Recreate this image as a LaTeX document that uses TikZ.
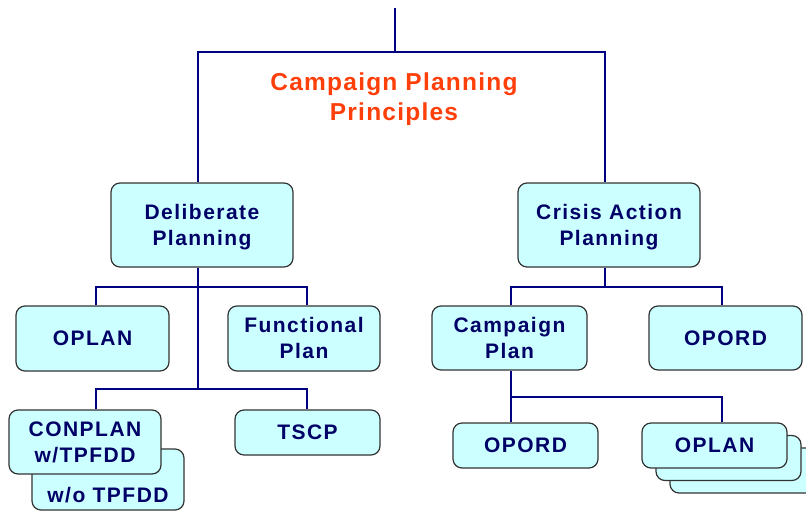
\documentclass[tikz,border=0pt]{standalone}
\usepackage{fontspec}
\usepackage{tikz}
\newfontfamily\planfont[LetterSpace=7]{Liberation Sans}
\newfontfamily\headfont[LetterSpace=5]{Liberation Sans}
\newcommand{\planstrut}{\rule[-4.5pt]{0pt}{23.5pt}}
\definecolor{planfill}{HTML}{CCFFFF}
\definecolor{plantext}{HTML}{000066}
\definecolor{planline}{HTML}{000080}
\definecolor{headred}{HTML}{FF3F0A}
\tikzset{
  plan/.style={draw=black!80,line width=1.2pt,fill=planfill,rounded corners=9pt,
    text=plantext,align=center,inner sep=0pt,
    font=\planfont\bfseries\fontsize{21}{26}\selectfont},
  link/.style={draw=planline,line width=1.1pt}
}

\begin{document}
\begin{tikzpicture}[x=1pt,y=-1pt]
\useasboundingbox (0,0) rectangle (806,512);
\clip (0,0) rectangle (806,512);
\node[text=headred,align=center,font=\headfont\bfseries\fontsize{24.5}{30}\selectfont]
  (head) at (394,99) {Campaign Planning\\Principles};
% planning branches
\node[plan,minimum width=182,minimum height=84] (delib) at (202,225) {\planstrut Deliberate\\Planning\planstrut};
\node[plan,minimum width=182,minimum height=84] (crisis) at (609,225) {\planstrut Crisis Action\\Planning\planstrut};
% deliberate side
\node[plan,minimum width=153,minimum height=65] (oplanA) at (92.5,338.5) {OPLAN};
\node[plan,minimum width=152,minimum height=65] (func) at (304,338.5) {\planstrut Functional\\Plan\planstrut};
\node[plan,minimum width=152,minimum height=61] (conback) at (108,479.5) {};
\node[text=plantext,font=\planfont\bfseries\fontsize{21}{26}\selectfont] (wo) at (108,495) {w/o TPFDD};
\node[plan,minimum width=152,minimum height=64] (conplan) at (85,442) {\planstrut CONPLAN\\w/TPFDD\planstrut};
\node[plan,minimum width=145,minimum height=45] (tscp) at (307.5,432.5) {TSCP};
% crisis side
\node[plan,minimum width=155,minimum height=64] (campaign) at (509.5,338) {\planstrut Campaign\\Plan\planstrut};
\node[plan,minimum width=153,minimum height=64] (opordA) at (725.5,338) {OPORD};
\node[plan,minimum width=145,minimum height=45] (opordB) at (525.5,445.5) {OPORD};
\foreach \d in {2,1}
  \node[plan,minimum width=145,minimum height=45] (oplanB\d) at (714.5+14*\d,445.5+12.5*\d) {};
\node[plan,minimum width=145,minimum height=45] (oplanB) at (714.5,445.5) {OPLAN};

% connectors
\coordinate (top) at (395,8);
\coordinate (hub) at (395,52);
\coordinate (lbus) at (198,287);
\coordinate (lbus2) at (198,389);
\coordinate (rbus) at (605,287);
\coordinate (rbus2) at (511,397);
\draw[link] (top) -- (hub);
\draw[link] ([xshift=-4]delib.north) |- (hub) -| ([xshift=-4]crisis.north);
\draw[link] ([xshift=-4]delib.south) -- (lbus2);
\draw[link] ([xshift=3.5]oplanA.north) |- (lbus) -| ([xshift=3]func.north);
\draw[link] ([xshift=11]conplan.north) |- (lbus2) -| ([xshift=-0.5]tscp.north);
\draw[link] ([xshift=-4]crisis.south) -- (rbus);
\draw[link] ([xshift=1.5]campaign.north) |- (rbus) -| ([xshift=-3.5]opordA.north);
\draw[link] ([xshift=1.5]campaign.south) -- ([xshift=-14.5]opordB.north);
\draw[link] (rbus2) -| ([xshift=7.5]oplanB.north);
\end{tikzpicture}
\end{document}
